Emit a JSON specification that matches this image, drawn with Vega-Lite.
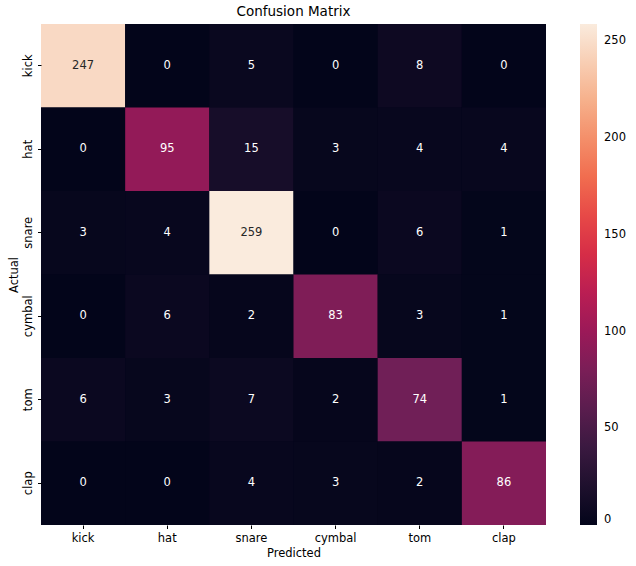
{
  "$schema": "https://vega.github.io/schema/vega-lite/v6.json",
  "width": 505,
  "height": 501,
  "autosize": "none",
  "padding": {"left": 41, "top": 24, "right": 90, "bottom": 41},
  "background": "white",
  "title": {"text": "Confusion Matrix", "font": "DejaVu Sans", "fontSize": 13.5, "fontWeight": "normal", "color": "black", "offset": 6},
  "config": {"view": {"stroke": null, "fill": "#03051a"}, "font": "DejaVu Sans"},
  "data": {"values": [
    {"actual": "kick", "predicted": "kick", "count": 247},
    {"actual": "kick", "predicted": "hat", "count": 0},
    {"actual": "kick", "predicted": "snare", "count": 5},
    {"actual": "kick", "predicted": "cymbal", "count": 0},
    {"actual": "kick", "predicted": "tom", "count": 8},
    {"actual": "kick", "predicted": "clap", "count": 0},
    {"actual": "hat", "predicted": "kick", "count": 0},
    {"actual": "hat", "predicted": "hat", "count": 95},
    {"actual": "hat", "predicted": "snare", "count": 15},
    {"actual": "hat", "predicted": "cymbal", "count": 3},
    {"actual": "hat", "predicted": "tom", "count": 4},
    {"actual": "hat", "predicted": "clap", "count": 4},
    {"actual": "snare", "predicted": "kick", "count": 3},
    {"actual": "snare", "predicted": "hat", "count": 4},
    {"actual": "snare", "predicted": "snare", "count": 259},
    {"actual": "snare", "predicted": "cymbal", "count": 0},
    {"actual": "snare", "predicted": "tom", "count": 6},
    {"actual": "snare", "predicted": "clap", "count": 1},
    {"actual": "cymbal", "predicted": "kick", "count": 0},
    {"actual": "cymbal", "predicted": "hat", "count": 6},
    {"actual": "cymbal", "predicted": "snare", "count": 2},
    {"actual": "cymbal", "predicted": "cymbal", "count": 83},
    {"actual": "cymbal", "predicted": "tom", "count": 3},
    {"actual": "cymbal", "predicted": "clap", "count": 1},
    {"actual": "tom", "predicted": "kick", "count": 6},
    {"actual": "tom", "predicted": "hat", "count": 3},
    {"actual": "tom", "predicted": "snare", "count": 7},
    {"actual": "tom", "predicted": "cymbal", "count": 2},
    {"actual": "tom", "predicted": "tom", "count": 74},
    {"actual": "tom", "predicted": "clap", "count": 1},
    {"actual": "clap", "predicted": "kick", "count": 0},
    {"actual": "clap", "predicted": "hat", "count": 0},
    {"actual": "clap", "predicted": "snare", "count": 4},
    {"actual": "clap", "predicted": "cymbal", "count": 3},
    {"actual": "clap", "predicted": "tom", "count": 2},
    {"actual": "clap", "predicted": "clap", "count": 86}
  ]},
  "encoding": {
    "x": {"field": "predicted", "type": "nominal", "sort": ["kick", "hat", "snare", "cymbal", "tom", "clap"], "title": "Predicted",
      "axis": {"labelAngle": 0, "domain": false, "grid": false, "tickColor": "black", "tickSize": 3.5, "labelFont": "DejaVu Sans", "labelFontSize": 11.5, "labelColor": "black", "titleFont": "DejaVu Sans", "titleFontSize": 11.5, "titleFontWeight": "normal", "titleColor": "black", "labelPadding": 4, "titlePadding": 3}},
    "y": {"field": "actual", "type": "nominal", "sort": ["kick", "hat", "snare", "cymbal", "tom", "clap"], "title": "Actual",
      "axis": {"labelAngle": -90, "labelAlign": "center", "labelBaseline": "bottom", "domain": false, "grid": false, "tickColor": "black", "tickSize": 3.5, "labelFont": "DejaVu Sans", "labelFontSize": 11.5, "labelColor": "black", "titleFont": "DejaVu Sans", "titleFontSize": 11.5, "titleFontWeight": "normal", "titleColor": "black", "labelPadding": 4, "titlePadding": 3}}
  },
  "layer": [
    {
      "mark": {"type": "rect", "strokeWidth": 0, "stroke": null},
      "encoding": {
        "color": {"field": "count", "type": "quantitative",
          "scale": {"domain": [0, 37, 74, 111, 148, 185, 222, 259], "range": ["#03051a", "#35193e", "#701f57", "#ad1759", "#e13342", "#f37651", "#f6b48f", "#faebdd"], "interpolate": "rgb"},
          "legend": {"title": null, "orient": "none", "legendX": 539, "legendY": 0, "direction": "vertical", "gradientLength": 501, "gradientThickness": 17, "values": [0, 50, 100, 150, 200, 250], "labelFont": "DejaVu Sans", "labelFontSize": 11.5, "labelColor": "black", "labelOffset": 7, "gradientStrokeWidth": 0}}
      }
    },
    {
      "mark": {"type": "text", "font": "DejaVu Sans", "fontSize": 11.5},
      "encoding": {
        "text": {"field": "count", "type": "quantitative"},
        "color": {"condition": {"test": "datum.count > 150", "value": "#262626"}, "value": "white"}
      }
    }
  ]
}
